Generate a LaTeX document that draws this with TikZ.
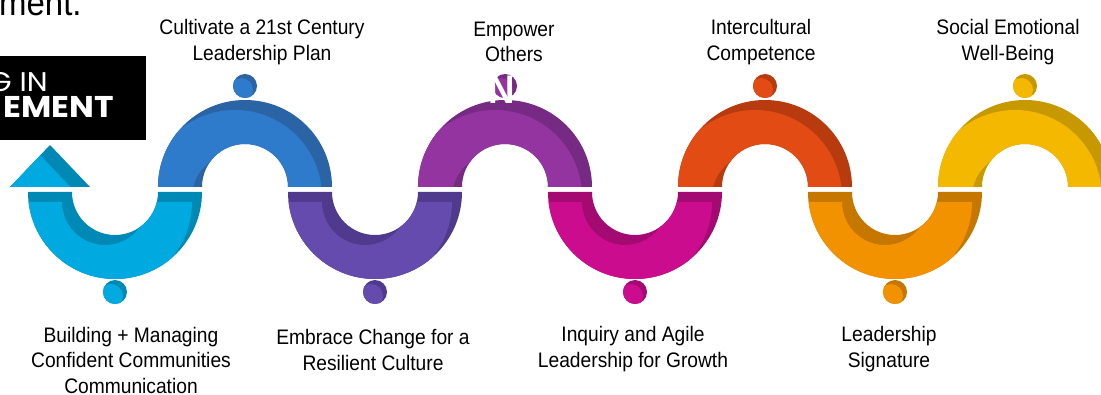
\documentclass[tikz,border=0pt]{standalone}
\usepackage{fontspec}
\setmainfont{Liberation Sans}[FakeStretch=0.915]
\newfontfamily\boxfont{Poppins}[FakeStretch=1.1]
\usetikzlibrary{positioning}

\definecolor{cyanL}{HTML}{00A9E0}\definecolor{cyanD}{HTML}{0089B4}
\definecolor{blueL}{HTML}{2E7BCC}\definecolor{blueD}{HTML}{2A64A5}
\definecolor{indigoL}{HTML}{644BAD}\definecolor{indigoD}{HTML}{4F3A8D}
\definecolor{purpleL}{HTML}{9434A0}\definecolor{purpleD}{HTML}{772A83}
\definecolor{magentaL}{HTML}{CC0C8F}\definecolor{magentaD}{HTML}{A30A72}
\definecolor{redL}{HTML}{E24B14}\definecolor{redD}{HTML}{B73B0F}
\definecolor{orangeL}{HTML}{F29200}\definecolor{orangeD}{HTML}{C57700}
\definecolor{yellowL}{HTML}{F5B800}\definecolor{yellowD}{HTML}{C79800}

% half rings, centre x, light colour, dark colour
\newcommand\humpup[3]{%
  \fill[#3] (#1-87,187) arc[start angle=180,end angle=360,radius=87]
    -- (#1+43,187) arc[start angle=360,end angle=180,radius=43] -- cycle;
  \begin{scope}
    \clip (#1-87,187) arc[start angle=180,end angle=360,radius=87]
      -- (#1+43,187) arc[start angle=360,end angle=180,radius=43] -- cycle;
    \fill[#2,shift={(-10,10)}] (#1-87,187) arc[start angle=180,end angle=360,radius=87]
      -- (#1+43,187) arc[start angle=360,end angle=180,radius=43] -- cycle;
  \end{scope}}
\newcommand\humpdown[3]{%
  \fill[#3] (#1-87,192) arc[start angle=180,end angle=0,radius=87]
    -- (#1+43,192) arc[start angle=0,end angle=180,radius=43] -- cycle;
  \begin{scope}
    \clip (#1-87,192) arc[start angle=180,end angle=0,radius=87]
      -- (#1+43,192) arc[start angle=0,end angle=180,radius=43] -- cycle;
    \fill[#2,shift={(-10,10)}] (#1-87,192) arc[start angle=180,end angle=0,radius=87]
      -- (#1+43,192) arc[start angle=0,end angle=180,radius=43] -- cycle;
  \end{scope}}
% dot, x, y, light, dark
\newcommand\blob[4]{%
  \fill[#4] (#1,#2) circle[radius=12];
  \begin{scope}
    \clip (#1,#2) circle[radius=12];
    \fill[#3] (#1-4,#2+4) circle[radius=12];
  \end{scope}}

\tikzset{lbl/.style={align=center,inner sep=0pt,font=\fontsize{21}{25.5}\selectfont}}

\begin{document}
\begin{tikzpicture}[x=1pt,y=-1pt]
\useasboundingbox (0,0) rectangle (1101,395);
\clip (0,0) rectangle (1101,395);

\humpdown{115}{cyanL}{cyanD}
\humpup{245}{blueL}{blueD}
\humpdown{375}{indigoL}{indigoD}
\humpup{505}{purpleL}{purpleD}
\humpdown{635}{magentaL}{magentaD}
\humpup{765}{redL}{redD}
\humpdown{895}{orangeL}{orangeD}
\humpup{1025}{yellowL}{yellowD}

% arrow head
\fill[cyanD] (50,145) -- (90,187) -- (10,187) -- cycle;
\begin{scope}
\clip (50,145) -- (90,187) -- (10,187) -- cycle;
\fill[cyanL,shift={(-10,10)}] (50,145) -- (90,187) -- (10,187) -- cycle;
\end{scope}

\blob{245}{86}{blueL}{blueD}
\blob{505}{86}{purpleL}{purpleD}
\blob{765}{86}{redL}{redD}
\blob{1025}{86}{yellowL}{yellowD}
\blob{115}{292}{cyanL}{cyanD}
\blob{375}{292}{indigoL}{indigoD}
\blob{635}{292}{magentaL}{magentaD}
\blob{895}{292}{orangeL}{orangeD}

\node[text=white,inner sep=0pt,font=\fontsize{40}{40}\selectfont\bfseries] (n) at (502,90) {N};

% cut off bits of the page behind
\node[anchor=base west,inner sep=0pt,font=\fontsize{36}{36}\selectfont] (ment) at (-1,16) {ment.};
\fill[black] (0,56) rectangle (146,140);
\node[anchor=base east,inner sep=0pt,text=white,font=\boxfont\fontsize{27}{27}\selectfont] (gin) at (48,92) {G IN};
\node[anchor=base east,inner sep=0pt,text=white,font=\boxfont\fontsize{30}{30}\selectfont\bfseries] (ement) at (114,118) {EMENT};

\node[lbl] (0) at (262,42) {Cultivate a 21st Century\\Leadership Plan};
\node[lbl] (1) at (514,42) {Empower\\Others};
\node[lbl] (2) at (761,42) {Intercultural\\Competence};
\node[lbl] (3) at (1008,42) {Social Emotional\\Well-Being};
\node[lbl] (4) at (131,360) {Building + Managing\\Confident Communities\\Communication};
\node[lbl] (5) at (373,350) {Embrace Change for a\\Resilient Culture};
\node[lbl] (6) at (633,349) {Inquiry and Agile\\Leadership for Growth};
\node[lbl] (7) at (889,349) {Leadership\\Signature};
\end{tikzpicture}
\end{document}
